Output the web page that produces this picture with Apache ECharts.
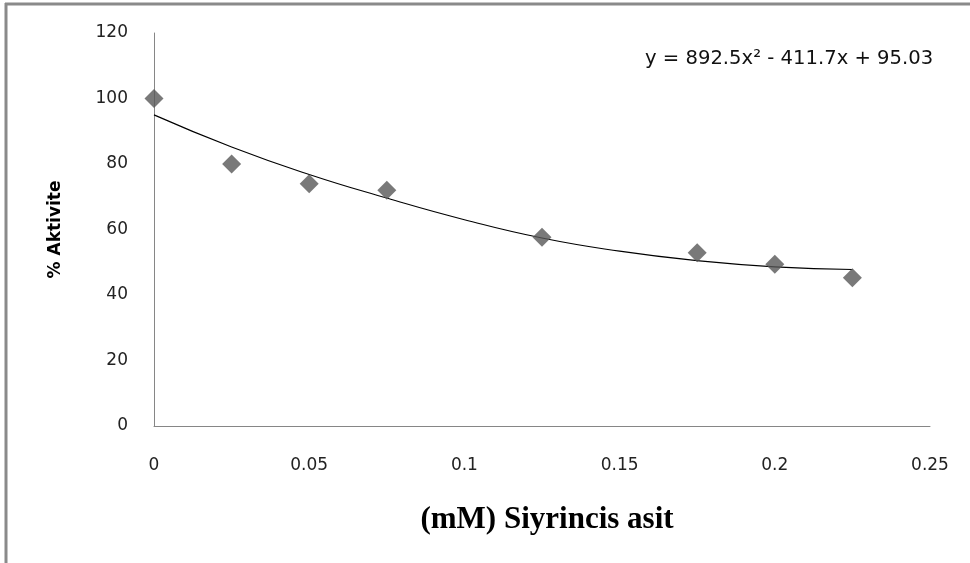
<!DOCTYPE html>
<html><head><meta charset="utf-8">
<script src="https://cdn.jsdelivr.net/npm/echarts@6/dist/echarts.min.js"></script>
<style>html,body{margin:0;padding:0;background:#fff}#c{width:970px;height:563px}</style>
</head><body><div id="c"></div>
<script>
const xValues = [0, 0.025, 0.05, 0.075, 0.125, 0.175, 0.2, 0.225];
const activity = [100, 80, 74, 72, 57.6, 52.9, 49.4, 45.3];
const trendX = [0, 0.025, 0.05, 0.075, 0.1, 0.125, 0.15, 0.175, 0.2, 0.225];
const trendY = [95, 85.2, 76.8, 69.6, 63, 57.4, 53.4, 50.5, 48.6, 47.8];
const equationText = 'y = 892.5x² - 411.7x + 95.03';
const xTitle = '(mM) Siyrincis asit';
const yTitle = '% Aktivite';

const chart = echarts.init(document.getElementById('c'));
chart.setOption({
  animation: false,
  backgroundColor: '#fff',
  grid: {left: 154, right: 40, top: 33, bottom: 137},
  xAxis: {
    type: 'value', min: 0, max: 0.25, interval: 0.05,
    axisLine: {show: true, lineStyle: {color: '#868686', width: 1}},
    axisTick: {show: false}, splitLine: {show: false},
    axisLabel: {color: '#222', fontFamily: 'DejaVu Sans', fontSize: 17, margin: 31},
    name: xTitle, nameLocation: 'middle', nameGap: 78,
    nameTextStyle: {fontFamily: 'Liberation Serif', fontWeight: 'bold', fontSize: 31, color: '#000', padding: [0, 0, 0, 10]}
  },
  yAxis: {
    type: 'value', min: 0, max: 120, interval: 20,
    axisLine: {show: true, lineStyle: {color: '#868686', width: 1}},
    axisTick: {show: false}, splitLine: {show: false},
    axisLabel: {color: '#222', fontFamily: 'DejaVu Sans', fontSize: 17, margin: 26},
    name: yTitle, nameLocation: 'middle', nameGap: 90, nameRotate: 90,
    nameTextStyle: {fontFamily: 'DejaVu Sans', fontWeight: 'bold', fontSize: 17, color: '#000'}
  },
  series: [
    {
      type: 'line', data: trendX.map((x, i) => [x, trendY[i]]),
      smooth: true, showSymbol: false, symbol: 'none',
      lineStyle: {color: '#000', width: 1.1}, z: 2
    },
    {
      type: 'scatter', data: xValues.map((x, i) => [x, activity[i]]),
      symbol: 'diamond', symbolSize: 19,
      itemStyle: {color: '#585858'}, z: 3
    }
  ],
  graphic: [
    {type: 'line', shape: {x1: 5, y1: 4, x2: 970, y2: 4}, style: {stroke: '#8a8a8a', lineWidth: 3}},
    {type: 'line', shape: {x1: 6, y1: 3, x2: 6, y2: 563}, style: {stroke: '#8a8a8a', lineWidth: 3}},
    {type: 'text', left: 645, top: 49, style: {text: equationText, fontFamily: 'DejaVu Sans', fontSize: 19.6, fill: '#111'}}
  ]
});
</script></body></html>
